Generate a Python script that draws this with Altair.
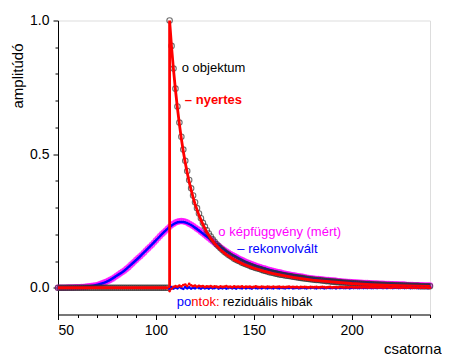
import altair as alt
import pandas as pd

FONT = "Liberation Sans"

channels = list(range(50, 241))

# objektum (black open circles), channels 50..240
objektum = [
    0.000, 0.000, 0.000, 0.000, 0.000, 0.000, 0.000, 0.000, 0.000, 0.000,
    0.000, 0.000, 0.000, 0.000, 0.000, 0.000, 0.000, 0.000, 0.000, 0.000,
    0.000, 0.000, 0.000, 0.000, 0.000, 0.000, 0.000, 0.000, 0.000, 0.000,
    0.000, 0.000, 0.000, 0.000, 0.000, 0.000, 0.000, 0.000, 0.000, 0.000,
    0.000, 0.000, 0.000, 0.000, 0.000, 0.000, 0.000, 0.000, 0.000, 0.000,
    0.000, 0.000, 0.000, 0.000, 0.000, 0.000, 0.000,
    1.000, 0.905, 0.820, 0.745, 0.678, 0.618, 0.565, 0.517, 0.475, 0.437,
    0.403, 0.372, 0.345, 0.320, 0.298, 0.278, 0.260, 0.243, 0.229, 0.215,
    0.203, 0.192, 0.181, 0.172, 0.163, 0.155, 0.148, 0.141, 0.135, 0.129,
    0.124, 0.119, 0.114, 0.109, 0.105, 0.101, 0.098, 0.094, 0.091, 0.088,
    0.085, 0.082, 0.079, 0.077, 0.074, 0.072, 0.070, 0.067, 0.065, 0.063,
    0.061, 0.058, 0.057, 0.055, 0.053, 0.052, 0.050, 0.049, 0.048, 0.046,
    0.045, 0.044, 0.043, 0.041, 0.040, 0.039, 0.038, 0.037, 0.036, 0.035,
    0.034, 0.033, 0.032, 0.031, 0.030, 0.029, 0.029, 0.028, 0.027, 0.026,
    0.025, 0.025, 0.024, 0.023, 0.023, 0.022, 0.021, 0.021, 0.020, 0.020,
    0.019, 0.019, 0.018, 0.018, 0.017, 0.017, 0.016, 0.016, 0.015, 0.015,
    0.014, 0.014, 0.014, 0.013, 0.013, 0.012, 0.012, 0.012, 0.011, 0.011,
    0.011, 0.010, 0.010, 0.010, 0.010, 0.009, 0.009, 0.009, 0.009, 0.008,
    0.008, 0.008, 0.008, 0.007, 0.007, 0.007, 0.007, 0.007, 0.006, 0.006,
    0.006, 0.006, 0.006, 0.006,
]

# képfüggvény (mért) (magenta open circles), channels 50..240
kepfuggveny = [
    0.000, 0.000, 0.000, 0.000, 0.000, 0.001, 0.001, 0.001, 0.001, 0.002,
    0.002, 0.002, 0.003, 0.003, 0.004, 0.005, 0.006, 0.007, 0.008, 0.009,
    0.010, 0.012, 0.015, 0.018, 0.021, 0.024, 0.027, 0.031, 0.035, 0.040,
    0.045, 0.050, 0.055, 0.060, 0.065, 0.071, 0.077, 0.084, 0.091, 0.098,
    0.105, 0.112, 0.118, 0.125, 0.132, 0.140, 0.147, 0.154, 0.161, 0.169,
    0.177, 0.185, 0.193, 0.200, 0.207, 0.214, 0.221, 0.228, 0.235, 0.240,
    0.244, 0.247, 0.249, 0.250, 0.249, 0.247, 0.244, 0.240, 0.236, 0.231,
    0.226, 0.221, 0.216, 0.210, 0.204, 0.198, 0.192, 0.186, 0.180, 0.174,
    0.168, 0.162, 0.157, 0.151, 0.146, 0.141, 0.136, 0.131, 0.127, 0.123,
    0.119, 0.115, 0.111, 0.107, 0.104, 0.100, 0.097, 0.094, 0.091, 0.088,
    0.085, 0.083, 0.080, 0.078, 0.075, 0.073, 0.071, 0.069, 0.067, 0.065,
    0.063, 0.061, 0.059, 0.058, 0.056, 0.054, 0.053, 0.051, 0.050, 0.048,
    0.047, 0.046, 0.044, 0.043, 0.042, 0.041, 0.040, 0.038, 0.037, 0.036,
    0.035, 0.034, 0.033, 0.033, 0.032, 0.031, 0.030, 0.029, 0.029, 0.028,
    0.027, 0.027, 0.026, 0.025, 0.025, 0.024, 0.023, 0.023, 0.022, 0.022,
    0.021, 0.021, 0.020, 0.020, 0.019, 0.019, 0.018, 0.018, 0.018, 0.017,
    0.017, 0.016, 0.016, 0.016, 0.015, 0.015, 0.015, 0.014, 0.014, 0.014,
    0.013, 0.013, 0.013, 0.013, 0.012, 0.012, 0.012, 0.012, 0.011, 0.011,
    0.011, 0.011, 0.010, 0.010, 0.010, 0.010, 0.010, 0.009, 0.009, 0.009,
    0.009,
]

# nyertes (red fitted line)
nyertes_x = [50, 107, 107, 108, 109, 110, 111, 112, 113, 114, 115, 116, 117, 118,
             119, 120, 122, 124, 126, 128, 130, 133, 136, 140, 145, 150, 155, 160,
             170, 180, 190, 200, 210, 220, 230, 240]
nyertes_y = [0.0, 0.0, 1.0, 0.90, 0.815, 0.74, 0.672, 0.612, 0.558, 0.51, 0.468,
             0.43, 0.396, 0.366, 0.338, 0.313, 0.271, 0.237, 0.208, 0.185, 0.166,
             0.142, 0.124, 0.105, 0.087, 0.073, 0.062, 0.053, 0.039, 0.029, 0.022,
             0.016, 0.012, 0.009, 0.007, 0.005]

# rekonvolvált (blue line)
rekonv_x = [50, 55, 60, 64, 68, 72, 76, 80, 84, 88, 92, 96, 100, 104, 108, 110,
            112, 114, 116, 118, 120, 124, 128, 132, 136, 140, 145, 150, 155, 160,
            170, 180, 190, 200, 210, 220, 230, 240]
rekonv_y = [0.000, 0.001, 0.002, 0.004, 0.008, 0.015, 0.027, 0.045, 0.065, 0.091,
            0.118, 0.147, 0.177, 0.207, 0.233, 0.242, 0.246, 0.246, 0.242, 0.235,
            0.225, 0.203, 0.180, 0.157, 0.136, 0.119, 0.100, 0.085, 0.073, 0.063,
            0.047, 0.035, 0.027, 0.021, 0.017, 0.013, 0.011, 0.009]

# residuals (pontok), channels 107..240
rez_x = list(range(107, 241))
rez_red = [
    -0.012, -0.004, 0.003, 0.006, 0.004, 0.008, 0.005, 0.010, 0.012, 0.007,
    0.014, 0.009, 0.006, 0.008, 0.004, 0.007, 0.005, 0.006, 0.003, 0.005,
    0.004, 0.006, 0.003, 0.005, 0.004, 0.002, 0.005, 0.003, 0.004, 0.006,
    0.003, 0.004, 0.002, 0.005, 0.003, 0.004, 0.003, 0.005, 0.002, 0.004,
    0.003, 0.004, 0.002, 0.003, 0.005, 0.003, 0.002, 0.004, 0.003, 0.002,
    0.004, 0.003, 0.002, 0.004, 0.002, 0.003, 0.004, 0.002, 0.003, 0.002,
    0.003, 0.004, 0.002, 0.003, 0.002, 0.003, 0.001, 0.003, 0.002, 0.003,
    0.002, 0.001, 0.003, 0.002, 0.002, 0.003, 0.001, 0.002, 0.003, 0.002,
    0.001, 0.002, 0.003, 0.001, 0.002, 0.002, 0.001, 0.003, 0.002, 0.001,
    0.002, 0.001, 0.002, 0.003, 0.001, 0.002, 0.001, 0.002, 0.001, 0.002,
    0.002, 0.001, 0.001, 0.002, 0.001, 0.002, 0.001, 0.001, 0.002, 0.001,
    0.001, 0.002, 0.001, 0.000, 0.001, 0.002, 0.001, 0.001, 0.000, 0.001,
    0.001, 0.000, 0.001, 0.001, 0.000, 0.001, 0.000, 0.001, 0.000, 0.001,
    0.000, 0.001, 0.000, 0.000,
]
rez_blue = [
    -0.006, 0.002, -0.003, 0.001, -0.002, 0.003, -0.001, -0.004, 0.002, -0.002,
    0.001, -0.003, 0.000, -0.002, 0.002, -0.001, -0.003, 0.001, -0.002, 0.000,
    -0.003, 0.001, -0.002, -0.001, 0.002, -0.003, 0.000, -0.002, 0.001, -0.003,
    -0.001, 0.001, -0.002, 0.000, -0.003, 0.001, -0.001, -0.002, 0.001, -0.002,
    0.000, -0.001, -0.003, 0.001, -0.001, -0.002, 0.000, -0.002, 0.001, -0.001,
    -0.002, 0.000, -0.001, -0.002, 0.001, -0.001, -0.002, 0.000, -0.001, -0.002,
    0.000, -0.001, 0.001, -0.002, -0.001, 0.000, -0.002, -0.001, 0.000, -0.001,
    -0.002, 0.000, -0.001, 0.001, -0.001, -0.002, 0.000, -0.001, 0.000, -0.002,
    -0.001, 0.000, -0.001, -0.001, 0.000, -0.002, 0.000, -0.001, 0.000, -0.001,
    -0.001, 0.000, -0.002, 0.000, -0.001, 0.000, -0.001, -0.001, 0.000, -0.001,
    0.000, -0.001, 0.000, -0.001, -0.001, 0.000, -0.001, 0.000, 0.000, -0.001,
    0.000, -0.001, 0.000, 0.000, -0.001, 0.000, 0.000, -0.001, 0.000, 0.000,
    -0.001, 0.000, 0.000, -0.001, 0.000, 0.000, 0.000, -0.001, 0.000, 0.000,
    0.000, 0.000, -0.001, 0.000,
]

x_major_ticks = [50, 100, 150, 200]
x_minor_ticks = [60, 70, 80, 90, 110, 120, 130, 140, 160, 170, 180, 190, 210, 220, 230, 240]
y_major_ticks = [0.0, 0.5, 1.0]
y_minor_ticks = [0.1, 0.2, 0.3, 0.4, 0.6, 0.7, 0.8, 0.9]

# annotations: text, x, y (data units), color
notes_plain = [
    ("o objektum", 113.2, 0.823, "#000000"),
    ("o képfüggvény (mért)", 131.9, 0.210, "#ff00ff"),
    ("– rekonvolvált", 141.6, 0.144, "#0000ff"),
]
notes_bold = [("– nyertes", 114.8, 0.703, "#ff0000")]
pontok_parts = [("po", 0, "#0000ff"), ("ntok:", 14.5, "#ff0000"), ("reziduális hibák", 46, "#000000")]
pontok_pos = (110.7, -0.053)

xs = alt.Scale(domain=[50, 240], nice=False, zero=False)
ys = alt.Scale(domain=[-0.1, 1.0], nice=False, zero=False)

x_major = alt.Axis(values=x_major_ticks, format="d", orient="bottom", tickSize=5,
                   labelPadding=4, labelFontSize=14, labelFont=FONT, labelColor="black",
                   domainColor="black", tickColor="black", grid=False,
                   title="csatorna", titleFont=FONT, titleFontSize=15,
                   titleFontWeight="normal", titleColor="black",
                   titleAnchor="end", titleAlign="right", titleX=383, titleY=34,
                   titleBaseline="middle")
y_major = alt.Axis(values=y_major_ticks, format=".1f", orient="left", tickSize=5,
                   labelPadding=4, labelFontSize=14, labelFont=FONT, labelColor="black",
                   domainColor="black", tickColor="black", grid=False,
                   title="amplitúdó", titleFont=FONT, titleFontSize=15,
                   titleFontWeight="normal", titleColor="black",
                   titleAngle=270, titleAlign="center", titleBaseline="middle",
                   titleX=-41, titleY=55)
x_minor = alt.Axis(values=x_minor_ticks, orient="bottom", tickSize=3, labels=False,
                   domain=False, grid=False, title=None, tickColor="black")
y_minor = alt.Axis(values=y_minor_ticks, orient="left", tickSize=3, labels=False,
                   domain=False, grid=False, title=None, tickColor="black")

df_obj = pd.DataFrame({"x": channels, "y": objektum})
df_kep = pd.DataFrame({"x": channels, "y": kepfuggveny})
df_ny = pd.DataFrame({"x": nyertes_x, "y": nyertes_y, "i": list(range(len(nyertes_x)))})
df_rek = pd.DataFrame({"x": rekonv_x, "y": rekonv_y})
df_rr = pd.DataFrame({"x": rez_x, "y": rez_red})
df_rb = pd.DataFrame({"x": rez_x, "y": rez_blue})


def enc(ch, xaxis=None, yaxis=None):
    return ch.encode(
        x=alt.X("x:Q", scale=xs, axis=xaxis),
        y=alt.Y("y:Q", scale=ys, axis=yaxis),
    )


minor_layer = enc(alt.Chart(df_kep).mark_point(opacity=0), x_minor, y_minor)
major_layer = enc(alt.Chart(df_kep).mark_point(opacity=0), x_major, y_major)

kep_pts = enc(alt.Chart(df_kep).mark_point(shape="circle", filled=False, color="#ff00ff",
                                            size=24, strokeWidth=1.5))
rek_line = enc(alt.Chart(df_rek).mark_line(color="#0000ff", strokeWidth=2.5,
                                           interpolate="monotone"))
obj_pts = enc(alt.Chart(df_obj).mark_point(shape="circle", filled=False, color="#333333",
                                           size=30, strokeWidth=1.1))
ny_line = alt.Chart(df_ny).mark_line(color="#ff0000", strokeWidth=2.8).encode(
    x=alt.X("x:Q", scale=xs, axis=None),
    y=alt.Y("y:Q", scale=ys, axis=None),
    order="i:Q",
)
rb_pts = enc(alt.Chart(df_rb).mark_circle(color="#0000ff", size=8, opacity=1))
rr_pts = enc(alt.Chart(df_rr).mark_circle(color="#ff0000", size=8, opacity=1))

df_np = pd.DataFrame(notes_plain, columns=["t", "x", "y", "c"])
df_nb = pd.DataFrame(notes_bold, columns=["t", "x", "y", "c"])

txt_plain = alt.Chart(df_np).mark_text(align="left", baseline="middle", font=FONT,
                                        fontSize=13).encode(
    x=alt.X("x:Q", scale=xs, axis=None),
    y=alt.Y("y:Q", scale=ys, axis=None),
    text="t:N",
    color=alt.Color("c:N", scale=None),
)
txt_bold = alt.Chart(df_nb).mark_text(align="left", baseline="middle", font=FONT,
                                       fontSize=13, fontWeight="bold").encode(
    x=alt.X("x:Q", scale=xs, axis=None),
    y=alt.Y("y:Q", scale=ys, axis=None),
    text="t:N",
    color=alt.Color("c:N", scale=None),
)

pontok_layers = []
for t, off, c in pontok_parts:
    d = pd.DataFrame({"x": [pontok_pos[0]], "y": [pontok_pos[1]], "t": [t]})
    pontok_layers.append(
        alt.Chart(d).mark_text(align="left", baseline="middle", font=FONT, fontSize=13,
                               dx=off, color=c).encode(
            x=alt.X("x:Q", scale=xs, axis=None),
            y=alt.Y("y:Q", scale=ys, axis=None),
            text="t:N",
        )
    )

chart = alt.layer(
    minor_layer, major_layer, kep_pts, rek_line, obj_pts, ny_line, rb_pts, rr_pts,
    txt_plain, txt_bold, *pontok_layers,
).resolve_axis(x="independent", y="independent").properties(
    width=372, height=294,
    autosize=alt.AutoSizeParams(type="none"),
    padding={"left": 50, "top": 12.5, "right": 12, "bottom": 44},
).configure_view(stroke=None).configure(background="white")

chart.save("out.html", embed_options={"renderer": "svg", "actions": False})
